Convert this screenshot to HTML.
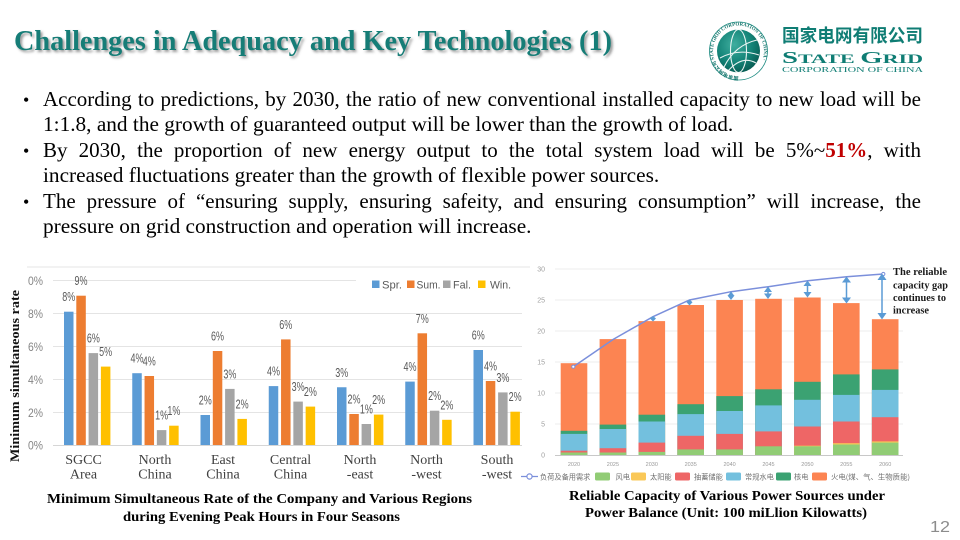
<!DOCTYPE html>
<html><head><meta charset="utf-8">
<style>
html,body{margin:0;padding:0;background:#fff;}
body{position:relative;width:960px;height:540px;overflow:hidden;}
svg{display:block;position:absolute;left:0;top:0;}
.ln{position:absolute;left:43px;width:878px;white-space:nowrap;font-family:"Liberation Serif",serif;font-size:21px;line-height:25.4px;color:#000;}
.n{font-size:21.3px;}
.j{text-align:justify;text-align-last:justify;}
.b{position:absolute;left:23px;font-family:"Liberation Serif",serif;font-size:18px;line-height:25.4px;color:#000;}
.red{color:#c00000;font-weight:bold;}
</style></head><body>
<svg width="960" height="540" viewBox="0 0 960 540" xmlns="http://www.w3.org/2000/svg">
<defs>
  <filter id="sh" x="-5%" y="-30%" width="110%" height="160%">
    <feDropShadow dx="2" dy="2" stdDeviation="1.2" flood-color="#555" flood-opacity="0.6"/>
  </filter>
  <radialGradient id="globe" cx="40%" cy="35%" r="70%">
    <stop offset="0" stop-color="#3fae9f"/>
    <stop offset="0.6" stop-color="#138377"/>
    <stop offset="1" stop-color="#075a51"/>
  </radialGradient>
  <path id="ring" d="M738.5,76.5 A25.5,25.5 0 1,1 738.51,76.5"/>
</defs>

<text x="14" y="50" font-family="Liberation Serif, serif" font-weight="bold" font-size="28" fill="#177d77" textLength="598" lengthAdjust="spacingAndGlyphs" filter="url(#sh)">Challenges in Adequacy and Key Technologies (1)</text>

<circle cx="738.5" cy="51" r="29" fill="#fff" stroke="#1b8a80" stroke-width="0.8"/>
<circle cx="738.5" cy="51" r="21.5" fill="url(#globe)"/>
<g fill="none" stroke="#fff" stroke-width="1.1" opacity="0.9">
  <ellipse cx="738.5" cy="51" rx="8" ry="21.5"/>
  <path d="M724,67 Q735,45 757,40"/>
  <path d="M720,58 Q738,48 759,55"/>
  <path d="M728,71 Q742,55 756,63"/>
</g>
<text font-family="Liberation Serif, 'Noto Sans CJK SC', serif" font-size="5" font-weight="bold" fill="#14766d"><textPath href="#ring">国家电网公司 STATE GRID CORPORATION OF CHINA ·</textPath></text>
<text x="782" y="42" font-family="'Noto Sans CJK SC', sans-serif" font-weight="bold" font-size="18" fill="#0f7d74" textLength="141" lengthAdjust="spacingAndGlyphs">国家电网有限公司</text>
<text x="782" y="63" font-family="Liberation Serif, serif" font-weight="bold" fill="#0f7d74" textLength="141" lengthAdjust="spacingAndGlyphs"><tspan font-size="17">S</tspan><tspan font-size="13">TATE </tspan><tspan font-size="17">G</tspan><tspan font-size="13">RID</tspan></text>
<text x="782" y="72" font-family="Liberation Serif, serif" font-size="7.5" fill="#0f7d74" textLength="141" lengthAdjust="spacingAndGlyphs">CORPORATION OF CHINA</text>

<line x1="27" y1="267" x2="530" y2="267" stroke="#e6e6e6" stroke-width="1"/>
<g stroke="#e4e4e4" stroke-width="1">
  <line x1="53" y1="280.5" x2="356" y2="280.5"/>
  <line x1="53" y1="313.5" x2="522" y2="313.5"/>
  <line x1="53" y1="346.5" x2="522" y2="346.5"/>
  <line x1="53" y1="379.5" x2="522" y2="379.5"/>
  <line x1="53" y1="412.5" x2="522" y2="412.5"/>
</g>
<line x1="53" y1="445.5" x2="522" y2="445.5" stroke="#d6d6d6" stroke-width="1"/>

<g font-family="Liberation Sans, sans-serif" font-size="12" fill="#858585" text-anchor="end">
  <text x="43" y="285" textLength="15" lengthAdjust="spacingAndGlyphs">0%</text>
  <text x="43" y="318" textLength="15" lengthAdjust="spacingAndGlyphs">8%</text>
  <text x="43" y="351" textLength="15" lengthAdjust="spacingAndGlyphs">6%</text>
  <text x="43" y="384" textLength="15" lengthAdjust="spacingAndGlyphs">4%</text>
  <text x="43" y="417" textLength="15" lengthAdjust="spacingAndGlyphs">2%</text>
  <text x="43" y="449.5" textLength="15" lengthAdjust="spacingAndGlyphs">0%</text>
</g>

<text transform="translate(19,376) rotate(-90)" text-anchor="middle" font-family="Liberation Serif, serif" font-weight="bold" font-size="13" fill="#111" textLength="172" lengthAdjust="spacingAndGlyphs">Minimum simultaneous rate</text>

<rect x="372" y="280.5" width="7.5" height="7.5" fill="#5b9bd5"/>
<rect x="407" y="280.5" width="7.5" height="7.5" fill="#ed7d31"/>
<rect x="443" y="280.5" width="7.5" height="7.5" fill="#a5a5a5"/>
<rect x="478" y="280.5" width="7.5" height="7.5" fill="#ffc000"/>
<g font-family="Liberation Sans, sans-serif" font-size="11" fill="#595959">
  <text x="382" y="288.5" textLength="20" lengthAdjust="spacingAndGlyphs">Spr.</text>
  <text x="416.5" y="288.5" textLength="24" lengthAdjust="spacingAndGlyphs">Sum.</text>
  <text x="453" y="288.5" textLength="18" lengthAdjust="spacingAndGlyphs">Fal.</text>
  <text x="490" y="288.5" textLength="21" lengthAdjust="spacingAndGlyphs">Win.</text>
</g>

<g>
  <rect x="64" y="311.7" width="9.5" height="133.3" fill="#5b9bd5"/>
  <rect x="76.3" y="295.7" width="9.5" height="149.3" fill="#ed7d31"/>
  <rect x="88.6" y="353.1" width="9.5" height="91.9" fill="#a5a5a5"/>
  <rect x="100.9" y="366.6" width="9.5" height="78.4" fill="#ffc000"/>
  <rect x="132.25" y="373.2" width="9.5" height="71.8" fill="#5b9bd5"/>
  <rect x="144.55" y="376" width="9.5" height="69" fill="#ed7d31"/>
  <rect x="156.85" y="430.1" width="9.5" height="14.9" fill="#a5a5a5"/>
  <rect x="169.15" y="425.7" width="9.5" height="19.3" fill="#ffc000"/>
  <rect x="200.5" y="415" width="9.5" height="30" fill="#5b9bd5"/>
  <rect x="212.8" y="351" width="9.5" height="94" fill="#ed7d31"/>
  <rect x="225.1" y="388.9" width="9.5" height="56.1" fill="#a5a5a5"/>
  <rect x="237.4" y="418.9" width="9.5" height="26.1" fill="#ffc000"/>
  <rect x="268.75" y="386.1" width="9.5" height="58.9" fill="#5b9bd5"/>
  <rect x="281.05" y="339.4" width="9.5" height="105.6" fill="#ed7d31"/>
  <rect x="293.35" y="401.6" width="9.5" height="43.4" fill="#a5a5a5"/>
  <rect x="305.65" y="406.6" width="9.5" height="38.4" fill="#ffc000"/>
  <rect x="337" y="387.25" width="9.5" height="57.75" fill="#5b9bd5"/>
  <rect x="349.3" y="414" width="9.5" height="31" fill="#ed7d31"/>
  <rect x="361.6" y="424" width="9.5" height="21" fill="#a5a5a5"/>
  <rect x="373.9" y="414.6" width="9.5" height="30.4" fill="#ffc000"/>
  <rect x="405.25" y="381.6" width="9.5" height="63.4" fill="#5b9bd5"/>
  <rect x="417.55" y="333.3" width="9.5" height="111.7" fill="#ed7d31"/>
  <rect x="429.85" y="410.7" width="9.5" height="34.3" fill="#a5a5a5"/>
  <rect x="442.15" y="419.8" width="9.5" height="25.2" fill="#ffc000"/>
  <rect x="473.5" y="350" width="9.5" height="95" fill="#5b9bd5"/>
  <rect x="485.8" y="381" width="9.5" height="64" fill="#ed7d31"/>
  <rect x="498.1" y="392.4" width="9.5" height="52.6" fill="#a5a5a5"/>
  <rect x="510.4" y="411.7" width="9.5" height="33.3" fill="#ffc000"/>
</g>

<g font-family="Liberation Sans, sans-serif" font-size="13" fill="#595959" text-anchor="middle">
  <text x="68.75" y="301.2" textLength="13" lengthAdjust="spacingAndGlyphs">8%</text>
  <text x="81.05" y="285.2" textLength="13" lengthAdjust="spacingAndGlyphs">9%</text>
  <text x="93.35" y="342.6" textLength="13" lengthAdjust="spacingAndGlyphs">6%</text>
  <text x="105.65" y="356.1" textLength="13" lengthAdjust="spacingAndGlyphs">5%</text>
  <text x="137" y="362.7" textLength="13" lengthAdjust="spacingAndGlyphs">4%</text>
  <text x="149.3" y="365.5" textLength="13" lengthAdjust="spacingAndGlyphs">4%</text>
  <text x="161.6" y="419.6" textLength="13" lengthAdjust="spacingAndGlyphs">1%</text>
  <text x="173.9" y="415.2" textLength="13" lengthAdjust="spacingAndGlyphs">1%</text>
  <text x="205.25" y="404.5" textLength="13" lengthAdjust="spacingAndGlyphs">2%</text>
  <text x="217.55" y="340.5" textLength="13" lengthAdjust="spacingAndGlyphs">6%</text>
  <text x="229.85" y="378.4" textLength="13" lengthAdjust="spacingAndGlyphs">3%</text>
  <text x="242.15" y="408.4" textLength="13" lengthAdjust="spacingAndGlyphs">2%</text>
  <text x="273.5" y="375.6" textLength="13" lengthAdjust="spacingAndGlyphs">4%</text>
  <text x="285.8" y="328.9" textLength="13" lengthAdjust="spacingAndGlyphs">6%</text>
  <text x="298.1" y="391.1" textLength="13" lengthAdjust="spacingAndGlyphs">3%</text>
  <text x="310.4" y="396.1" textLength="13" lengthAdjust="spacingAndGlyphs">2%</text>
  <text x="341.75" y="376.75" textLength="13" lengthAdjust="spacingAndGlyphs">3%</text>
  <text x="354.05" y="403.5" textLength="13" lengthAdjust="spacingAndGlyphs">2%</text>
  <text x="366.35" y="413.5" textLength="13" lengthAdjust="spacingAndGlyphs">1%</text>
  <text x="378.65" y="404.1" textLength="13" lengthAdjust="spacingAndGlyphs">2%</text>
  <text x="410" y="371.1" textLength="13" lengthAdjust="spacingAndGlyphs">4%</text>
  <text x="422.3" y="322.8" textLength="13" lengthAdjust="spacingAndGlyphs">7%</text>
  <text x="434.6" y="400.2" textLength="13" lengthAdjust="spacingAndGlyphs">2%</text>
  <text x="446.9" y="409.3" textLength="13" lengthAdjust="spacingAndGlyphs">2%</text>
  <text x="478.25" y="339.5" textLength="13" lengthAdjust="spacingAndGlyphs">6%</text>
  <text x="490.55" y="370.5" textLength="13" lengthAdjust="spacingAndGlyphs">4%</text>
  <text x="502.85" y="381.9" textLength="13" lengthAdjust="spacingAndGlyphs">3%</text>
  <text x="515.15" y="401.2" textLength="13" lengthAdjust="spacingAndGlyphs">2%</text>
</g>

<g font-family="Liberation Serif, serif" font-size="14" fill="#404040" text-anchor="middle">
  <text x="83.5" y="464">SGCC</text><text x="83.5" y="478.5">Area</text>
  <text x="155" y="464">North</text><text x="155" y="478.5">China</text>
  <text x="223" y="464">East</text><text x="223" y="478.5">China</text>
  <text x="290.5" y="464">Central</text><text x="290.5" y="478.5">China</text>
  <text x="360" y="464">North</text><text x="360" y="478.5">-east</text>
  <text x="426.5" y="464">North</text><text x="426.5" y="478.5">-west</text>
  <text x="497" y="464">South</text><text x="497" y="478.5">-west</text>
</g>

<g font-family="Liberation Serif, serif" font-weight="bold" font-size="13.5" fill="#000">
  <text x="47" y="503" textLength="425" lengthAdjust="spacingAndGlyphs">Minimum Simultaneous Rate of the Company and Various Regions</text>
  <text x="123" y="521" textLength="277" lengthAdjust="spacingAndGlyphs">during Evening Peak Hours in Four Seasons</text>
</g>

<g stroke="#eeeeee" stroke-width="1">
  <line x1="555" y1="269" x2="903" y2="269"/>
  <line x1="555" y1="300" x2="903" y2="300"/>
  <line x1="555" y1="331" x2="903" y2="331"/>
  <line x1="555" y1="362" x2="903" y2="362"/>
  <line x1="555" y1="393" x2="903" y2="393"/>
  <line x1="555" y1="424" x2="903" y2="424"/>
</g>
<line x1="555" y1="455.5" x2="903" y2="455.5" stroke="#c8c8c8" stroke-width="1"/>

<g font-family="Liberation Sans, sans-serif" font-size="7" fill="#a0a0a0" text-anchor="end">
  <text x="545" y="271.5">30</text>
  <text x="545" y="302.5">25</text>
  <text x="545" y="333.5">20</text>
  <text x="545" y="364.5">15</text>
  <text x="545" y="395.5">10</text>
  <text x="545" y="426.5">5</text>
  <text x="545" y="457.5">0</text>
</g>

<g>
  <rect x="560.7" y="363.2" width="26.6" height="91.8" fill="#fc8452"/>
  <rect x="560.7" y="430.8" width="26.6" height="24.2" fill="#3ba272"/>
  <rect x="560.7" y="433.9" width="26.6" height="21.1" fill="#73c0de"/>
  <rect x="560.7" y="450.7" width="26.6" height="4.3" fill="#ee6666"/>
  <rect x="560.7" y="452.5" width="26.6" height="2.5" fill="#91cc75"/>

  <rect x="599.6" y="339.1" width="26.6" height="115.9" fill="#fc8452"/>
  <rect x="599.6" y="424.6" width="26.6" height="30.4" fill="#3ba272"/>
  <rect x="599.6" y="429" width="26.6" height="26" fill="#73c0de"/>
  <rect x="599.6" y="448.2" width="26.6" height="6.8" fill="#ee6666"/>
  <rect x="599.6" y="452.5" width="26.6" height="2.5" fill="#91cc75"/>

  <rect x="638.5" y="321.1" width="26.6" height="133.9" fill="#fc8452"/>
  <rect x="638.5" y="414.7" width="26.6" height="40.3" fill="#3ba272"/>
  <rect x="638.5" y="421.5" width="26.6" height="33.5" fill="#73c0de"/>
  <rect x="638.5" y="442.6" width="26.6" height="12.4" fill="#ee6666"/>
  <rect x="638.5" y="451.9" width="26.6" height="3.1" fill="#91cc75"/>

  <rect x="677.4" y="305" width="26.6" height="150" fill="#fc8452"/>
  <rect x="677.4" y="404.2" width="26.6" height="50.8" fill="#3ba272"/>
  <rect x="677.4" y="414.1" width="26.6" height="40.9" fill="#73c0de"/>
  <rect x="677.4" y="435.8" width="26.6" height="19.2" fill="#ee6666"/>
  <rect x="677.4" y="449.4" width="26.6" height="5.6" fill="#91cc75"/>

  <rect x="716.3" y="300" width="26.6" height="155" fill="#fc8452"/>
  <rect x="716.3" y="396.1" width="26.6" height="58.9" fill="#3ba272"/>
  <rect x="716.3" y="411" width="26.6" height="44" fill="#73c0de"/>
  <rect x="716.3" y="433.9" width="26.6" height="21.1" fill="#ee6666"/>
  <rect x="716.3" y="449.4" width="26.6" height="5.6" fill="#91cc75"/>

  <rect x="755.2" y="298.8" width="26.6" height="156.2" fill="#fc8452"/>
  <rect x="755.2" y="389.3" width="26.6" height="65.7" fill="#3ba272"/>
  <rect x="755.2" y="405.4" width="26.6" height="49.6" fill="#73c0de"/>
  <rect x="755.2" y="431.4" width="26.6" height="23.6" fill="#ee6666"/>
  <rect x="755.2" y="446.3" width="26.6" height="8.7" fill="#91cc75"/>

  <rect x="794.1" y="297.5" width="26.6" height="157.5" fill="#fc8452"/>
  <rect x="794.1" y="381.8" width="26.6" height="73.2" fill="#3ba272"/>
  <rect x="794.1" y="399.8" width="26.6" height="55.2" fill="#73c0de"/>
  <rect x="794.1" y="426.5" width="26.6" height="28.5" fill="#ee6666"/>
  <rect x="794.1" y="445.7" width="26.6" height="9.3" fill="#fac858"/>
  <rect x="794.1" y="446.3" width="26.6" height="8.7" fill="#91cc75"/>

  <rect x="833" y="303.1" width="26.6" height="151.9" fill="#fc8452"/>
  <rect x="833" y="374.4" width="26.6" height="80.6" fill="#3ba272"/>
  <rect x="833" y="394.9" width="26.6" height="60.1" fill="#73c0de"/>
  <rect x="833" y="421.5" width="26.6" height="33.5" fill="#ee6666"/>
  <rect x="833" y="443.2" width="26.6" height="11.8" fill="#fac858"/>
  <rect x="833" y="444.5" width="26.6" height="10.5" fill="#91cc75"/>

  <rect x="871.9" y="319.2" width="26.6" height="135.8" fill="#fc8452"/>
  <rect x="871.9" y="369.4" width="26.6" height="85.6" fill="#3ba272"/>
  <rect x="871.9" y="389.9" width="26.6" height="65.1" fill="#73c0de"/>
  <rect x="871.9" y="417.2" width="26.6" height="37.8" fill="#ee6666"/>
  <rect x="871.9" y="441.4" width="26.6" height="13.6" fill="#fac858"/>
  <rect x="871.9" y="442.6" width="26.6" height="12.4" fill="#91cc75"/>
</g>

<g font-family="Liberation Sans, sans-serif" font-size="5.5" fill="#999" text-anchor="middle">
  <text x="574" y="466">2020</text>
  <text x="612.9" y="466">2025</text>
  <text x="651.8" y="466">2030</text>
  <text x="690.7" y="466">2035</text>
  <text x="729.6" y="466">2040</text>
  <text x="768.5" y="466">2045</text>
  <text x="807.4" y="466">2050</text>
  <text x="846.3" y="466">2055</text>
  <text x="885.2" y="466">2060</text>
</g>

<polyline points="573.3,366.7 613,339.5 653,316.7 689.5,300 731,291.7 768.3,286.7 807.7,280.7 846.7,276.7 883.3,274" fill="none" stroke="#7b8fdb" stroke-width="1.5"/>
<g fill="#fff" stroke="#7b8fdb" stroke-width="1">
  <circle cx="573.3" cy="366.7" r="1.6"/>
  <circle cx="883.3" cy="274" r="1.6"/>
</g>

<g stroke="#5b9bd5" stroke-width="1.5" fill="#5b9bd5">
  <polygon points="653,316 650,318.5 653,321.5 656,318.5" stroke="none"/>
  <polygon points="689.5,299.5 686.5,302.2 689.5,305.5 692.5,302.2" stroke="none"/>
  <line x1="731" y1="294" x2="731" y2="298"/>
  <polygon points="731,291.5 727.5,296 734.5,296" stroke="none"/>
  <polygon points="731,300 727.5,295.5 734.5,295.5" stroke="none"/>
  <line x1="768" y1="290" x2="768" y2="296"/>
  <polygon points="768,286.5 764,292 772,292" stroke="none"/>
  <polygon points="768,299 764,293.5 772,293.5" stroke="none"/>
  <line x1="807.5" y1="284" x2="807.5" y2="294"/>
  <polygon points="807.5,280.5 803.5,286 811.5,286" stroke="none"/>
  <polygon points="807.5,297.5 803.5,292 811.5,292" stroke="none"/>
  <line x1="846.5" y1="280" x2="846.5" y2="300"/>
  <polygon points="846.5,276.5 842,282.5 851,282.5" stroke="none"/>
  <polygon points="846.5,303.5 842,297.5 851,297.5" stroke="none"/>
  <line x1="882" y1="277" x2="882" y2="316"/>
  <polygon points="882,273.5 877.5,280 886.5,280" stroke="none"/>
  <polygon points="882,319.5 877.5,313 886.5,313" stroke="none"/>
</g>

<g font-family="Liberation Serif, serif" font-weight="bold" font-size="11" fill="#1a1a1a">
  <text x="893" y="275" textLength="54" lengthAdjust="spacingAndGlyphs">The reliable</text>
  <text x="893" y="288.5" textLength="55" lengthAdjust="spacingAndGlyphs">capacity gap</text>
  <text x="893" y="301" textLength="53" lengthAdjust="spacingAndGlyphs">continues to</text>
  <text x="893" y="313.5" textLength="36" lengthAdjust="spacingAndGlyphs">increase</text>
</g>

<line x1="521" y1="476.5" x2="538" y2="476.5" stroke="#7b8fdb" stroke-width="1.3"/>
<circle cx="529.5" cy="476.5" r="2.6" fill="#fff" stroke="#7b8fdb" stroke-width="1.2"/>
<rect x="595" y="472.5" width="15" height="8" rx="1.5" fill="#91cc75"/>
<rect x="631" y="472.5" width="15" height="8" rx="1.5" fill="#fac858"/>
<rect x="675" y="472.5" width="15" height="8" rx="1.5" fill="#ee6666"/>
<rect x="726" y="472.5" width="15" height="8" rx="1.5" fill="#73c0de"/>
<rect x="776" y="472.5" width="15" height="8" rx="1.5" fill="#3ba272"/>
<rect x="812" y="472.5" width="15" height="8" rx="1.5" fill="#fc8452"/>
<g font-family="'Noto Sans CJK SC', sans-serif" font-size="7.2" fill="#707070">
  <text x="540" y="479.3">负荷及备用需求</text>
  <text x="615.5" y="479.3">风电</text>
  <text x="650" y="479.3">太阳能</text>
  <text x="694" y="479.3">抽蓄储能</text>
  <text x="745" y="479.3">常规水电</text>
  <text x="794" y="479.3">核电</text>
  <text x="831" y="479.3" textLength="79" lengthAdjust="spacingAndGlyphs">火电(煤、气、生物质能)</text>
</g>

<g font-family="Liberation Serif, serif" font-weight="bold" font-size="13.5" fill="#000">
  <text x="569" y="500" textLength="316" lengthAdjust="spacingAndGlyphs">Reliable Capacity of Various Power Sources under</text>
  <text x="585" y="517" textLength="282" lengthAdjust="spacingAndGlyphs">Power Balance (Unit: 100 miLlion Kilowatts)</text>
</g>

<text x="930" y="532" font-family="Liberation Sans, sans-serif" font-size="16" fill="#8c8c8c" textLength="20" lengthAdjust="spacingAndGlyphs">12</text>
</svg>

<div class="b" style="top:88px;">•</div>
<div class="b" style="top:138.8px;">•</div>
<div class="b" style="top:189.6px;">•</div>
<div class="ln j" style="top:87.2px;">According to predictions, by 2030, the ratio of new conventional installed capacity to new load will be</div>
<div class="ln n" style="top:112.4px;">1:1.8, and the growth of guaranteed output will be lower than the growth of load.</div>
<div class="ln j" style="top:138px;">By 2030, the proportion of new energy output to the total system load will be 5%~<span class="red">51%</span>, with</div>
<div class="ln n" style="top:163.2px;">increased fluctuations greater than the growth of flexible power sources.</div>
<div class="ln j" style="top:188.8px;">The pressure of “ensuring supply, ensuring safeity, and ensuring consumption” will increase, the</div>
<div class="ln n" style="top:214px;">pressure on grid construction and operation will increase.</div>
</body></html>
